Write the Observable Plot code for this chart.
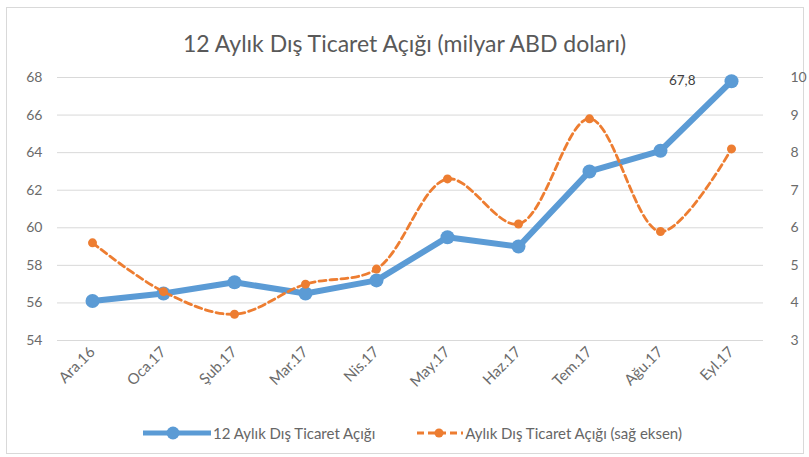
<!DOCTYPE html>
<html><head><meta charset="utf-8">
<script src="https://cdn.jsdelivr.net/npm/d3@7"></script>
<script src="https://cdn.jsdelivr.net/npm/@observablehq/plot@0.6"></script>
<style>
body{margin:0;background:#fff;font-family:Lato,"Noto Sans",sans-serif;width:809px;height:457px;position:relative;overflow:hidden;}
#frame{position:absolute;left:6px;top:7px;width:798px;height:447px;border:1px solid #d9d9d9;box-sizing:border-box;}
#title{position:absolute;left:0;width:809px;top:29px;text-align:center;font-size:23px;line-height:28px;color:#595959;}
#chart{position:absolute;left:0;top:0;}
#legend{position:absolute;left:143px;top:424px;display:flex;align-items:center;font-size:15px;line-height:18px;color:#666;}
#legend .item{display:flex;align-items:center;margin-right:40px;}
#legend svg{margin-right:2px;}
</style></head>
<body>
<div id="frame"></div>
<div id="title">12 Aylık Dış Ticaret Açığı (milyar ABD doları)</div>
<div id="chart"></div>
<div id="legend"></div>
<script>
const categories = ["Ara.16","Oca.17","Şub.17","Mar.17","Nis.17","May.17","Haz.17","Tem.17","Ağu.17","Eyl.17"];
const annualDeficit = [56.1, 56.5, 57.1, 56.5, 57.2, 59.5, 59.0, 63.0, 64.1, 67.8];
const monthlyDeficit = [5.6, 4.3, 3.7, 4.5, 4.9, 7.3, 6.1, 8.9, 5.9, 8.1];
const leftTicks = [54, 56, 58, 60, 62, 64, 66, 68];
const rightTicks = [3, 4, 5, 6, 7, 8, 9, 10];
const seriesNames = ["12 Aylık Dış Ticaret Açığı", "Aylık Dış Ticaret Açığı (sağ eksen)"];
const blue = "#5b9bd5", orange = "#ed7d31";

// map right axis (3..10) onto left axis (54..68)
const toLeft = v => (v - 3) * 2 + 54;
const toRight = l => (l - 54) / 2 + 3;

const annual = categories.map((c, i) => ({cat: c, v: annualDeficit[i]}));
const monthly = categories.map((c, i) => ({cat: c, v: toLeft(monthlyDeficit[i])}));
const last = [annual[annual.length - 1]];

const chart = Plot.plot({
  width: 809, height: 400,
  marginTop: 77, marginBottom: 60, marginLeft: 54, marginRight: 40,
  style: {fontFamily: "Lato, 'Noto Sans', sans-serif", fontSize: "14px", color: "#6b6b6b", background: "transparent"},
  x: {type: "point", domain: categories, padding: 0.5, label: null},
  y: {domain: [54, 68], label: null},
  marks: [
    Plot.gridY({ticks: leftTicks, stroke: "#d9d9d9", strokeOpacity: 1, insetLeft: 3, insetRight: 6}),
    Plot.axisY({ticks: leftTicks, anchor: "left", tickSize: 0, tickPadding: 12, label: null, fill: "#6b6b6b"}),
    Plot.axisY({ticks: leftTicks, anchor: "right", tickSize: 0, tickPadding: 21, label: null, fill: "#6b6b6b",
      textAnchor: "start", tickFormat: d => String(toRight(d))}),
    Plot.axisX({tickRotate: -45, tickSize: 0, tickPadding: 9, label: null, fill: "#6b6b6b", fontSize: 15}),
    Plot.line(annual, {x: "cat", y: "v", stroke: blue, strokeWidth: 6}),
    Plot.dot(annual, {x: "cat", y: "v", r: 7, fill: blue}),
    Plot.line(monthly, {x: "cat", y: "v", stroke: orange, strokeWidth: 2.8, strokeDasharray: "7,4", curve: "catmull-rom"}),
    Plot.dot(monthly, {x: "cat", y: "v", r: 4.5, fill: orange}),
    Plot.text(last, {x: "cat", y: "v", text: d => String(d.v).replace(".", ","), dx: -36, dy: -1, textAnchor: "end", fill: "#404040", fontSize: 13.5})
  ]
});
document.getElementById("chart").appendChild(chart);

const legend = document.getElementById("legend");
seriesNames.forEach((name, i) => {
  const item = document.createElement("div");
  item.className = "item";
  const sw = i === 0
    ? `<svg width="68" height="16"><line x1="0" y1="8" x2="68" y2="8" stroke="${blue}" stroke-width="5"/><circle cx="30" cy="8" r="6.5" fill="${blue}"/></svg>`
    : `<svg width="48" height="16"><line x1="2" y1="8" x2="48" y2="8" stroke="${orange}" stroke-width="2.8" stroke-dasharray="7,4"/><circle cx="24" cy="8" r="4.5" fill="${orange}"/></svg>`;
  item.innerHTML = sw + `<span>${name}</span>`;
  legend.appendChild(item);
});
</script>
</body></html>
